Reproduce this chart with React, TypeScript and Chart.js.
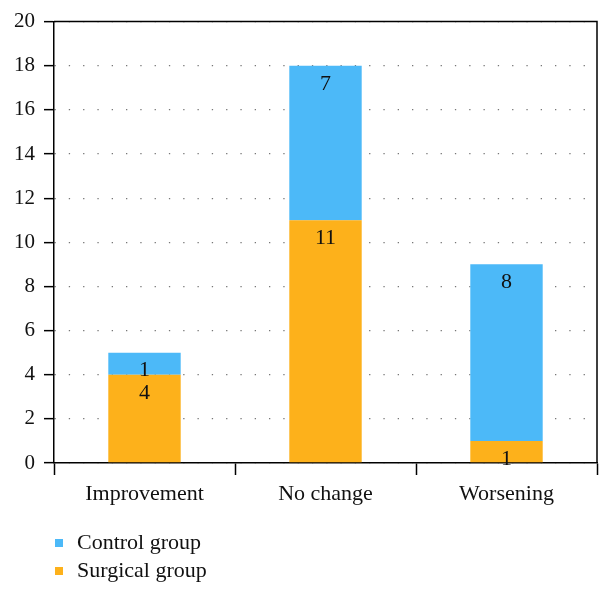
import React, { useEffect, useRef } from "react";
import { Chart, registerables } from "chart.js";

Chart.register(...registerables);

const categories = ["Improvement", "No change", "Worsening"];
const surgicalValues = [4, 11, 1];
const controlValues = [1, 7, 8];
const seriesNames = ["Surgical group", "Control group"];
const seriesColors = ["#fdb11b", "#4cb9f8"];
const yMin = 0;
const yMax = 20;
const yStep = 2;

const FONT = "'Liberation Serif', 'Times New Roman', serif";

export default function App() {
  const ref = useRef<HTMLCanvasElement>(null);

  useEffect(() => {
    if (!ref.current) return;

    const framePlugin = {
      id: "frame",
      afterDatasetsDraw(chart: any) {
        const { ctx, chartArea: a } = chart;
        ctx.save();
        ctx.strokeStyle = "#000";
        ctx.lineWidth = 1.5;
        ctx.beginPath();
        ctx.moveTo(a.left, a.top);
        ctx.lineTo(a.right, a.top);
        ctx.lineTo(a.right, a.bottom);
        ctx.stroke();
        ctx.restore();
      },
    };

    const valuePlugin = {
      id: "values",
      afterDatasetsDraw(chart: any) {
        const { ctx } = chart;
        ctx.save();
        ctx.fillStyle = "#111";
        ctx.font = `22px ${FONT}`;
        ctx.textAlign = "center";
        ctx.textBaseline = "middle";
        chart.data.datasets.forEach((ds: any, i: number) => {
          const meta = chart.getDatasetMeta(i);
          meta.data.forEach((el: any, j: number) => {
            ctx.fillText(String(ds.data[j]), el.x, el.y + 18);
          });
        });
        ctx.restore();
      },
    };

    const legendPlugin = {
      id: "customLegend",
      afterDraw(chart: any) {
        const { ctx } = chart;
        const ds = chart.data.datasets.slice().reverse();
        ctx.save();
        ctx.font = `22px ${FONT}`;
        ctx.textBaseline = "middle";
        ctx.textAlign = "left";
        ds.forEach((d: any, i: number) => {
          const cy = 543 + i * 28;
          ctx.fillStyle = d.backgroundColor;
          ctx.fillRect(55, cy - 4, 8, 8);
          ctx.fillStyle = "#111";
          ctx.fillText(d.label, 77, cy);
        });
        ctx.restore();
      },
    };

    const chart = new Chart(ref.current, {
      type: "bar",
      data: {
        labels: categories,
        datasets: [
          {
            label: seriesNames[0],
            data: surgicalValues,
            backgroundColor: seriesColors[0],
            barPercentage: 0.4,
            categoryPercentage: 1,
          },
          {
            label: seriesNames[1],
            data: controlValues,
            backgroundColor: seriesColors[1],
            barPercentage: 0.4,
            categoryPercentage: 1,
          },
        ],
      },
      options: {
        responsive: false,
        animation: false,
        layout: { padding: { left: 0, top: 21, right: 13, bottom: 0 } },
        plugins: {
          legend: { display: false },
          tooltip: { enabled: false },
        },
        scales: {
          x: {
            stacked: true,
            afterFit(scale: any) {
              scale.height = 132;
            },
            grid: {
              offset: true,
              drawOnChartArea: false,
              drawTicks: true,
              tickLength: 12,
              tickColor: "#000",
              tickWidth: 1.5,
            },
            border: { display: true, color: "#000", width: 1.5 },
            ticks: {
              color: "#111",
              font: { family: FONT, size: 22 },
              padding: 6,
              maxRotation: 0,
            },
          },
          y: {
            stacked: true,
            min: yMin,
            max: yMax,
            afterFit(scale: any) {
              scale.width = 54;
            },
            grid: {
              color: "#777",
              lineWidth: 1.3,
              tickColor: "#000",
              tickLength: 10,
              tickWidth: 1.5,
            },
            border: { display: true, color: "#000", width: 1.5, dash: [1.3, 13] },
            ticks: {
              stepSize: yStep,
              color: "#111",
              font: { family: FONT, size: 21 },
              padding: 9,
            },
          },
        },
      },
      plugins: [framePlugin, valuePlugin, legendPlugin],
    } as any);

    return () => chart.destroy();
  }, []);

  return (
    <div style={{ position: "absolute", left: 0, top: 0, width: 610, height: 595, background: "#fff" }}>
      <canvas ref={ref} width={610} height={595} />
    </div>
  );
}
